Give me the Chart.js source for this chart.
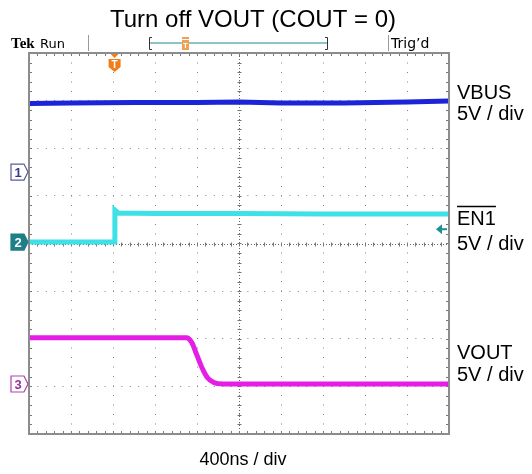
<!DOCTYPE html>
<html>
<head>
<meta charset="utf-8">
<script src="https://cdn.jsdelivr.net/npm/chart.js@4"></script>
<style>
  html, body { margin: 0; padding: 0; background: #fff; }
  #wrap { width: 532px; height: 474px; position: relative; }
</style>
</head>
<body>
<div id="wrap"><canvas id="scope"></canvas></div>
<script>
// time axis in ns (400 ns / div, 10 div), voltage in divisions (5 V / div)
const vbusTime = [0, 400, 1000, 1600, 2000, 2400, 3000, 3600, 4000];
const vbusDiv  = [2.94, 2.95, 2.96, 2.96, 2.97, 2.95, 2.95, 2.97, 2.99];

const en1Time = [0, 815, 818, 850, 1200, 2000, 2800, 3500, 4000];
const en1Div  = [0.03, 0.03, 0.70, 0.64, 0.63, 0.63, 0.62, 0.62, 0.62];

const voutTime = [0, 800, 1500, 1550, 1600, 1650, 1700, 1760, 1850, 2500, 3200, 4000];
const voutDiv  = [-1.98, -1.98, -1.98, -2.08, -2.35, -2.62, -2.82, -2.92, -2.95, -2.95, -2.95, -2.95];

const xTicksNs = [0, 400, 800, 1200, 1600, 2000, 2400, 2800, 3200, 3600, 4000];
const yTicksDiv = [-4, -3, -2, -1, 0, 1, 2, 3, 4];

function pts(t, v) {
    return t.map(function(x, i) { return { x: x, y: v[i] }; });
}

// frame, minor ticks on the border and the centre cross, channel markers, header and labels
const scopeDecor = {
    id: 'scopeDecor',
    beforeDatasetsDraw: function(chart) {
        const ctx = chart.ctx;
        const a = chart.chartArea;
        const xs = chart.scales.x, ys = chart.scales.y;
        const cx = Math.round(xs.getPixelForValue(2000)) + 0.5, cy = Math.round(ys.getPixelForValue(0)) + 0.5;
        ctx.save();
        // centre cross, denser dots
        ctx.strokeStyle = '#666';
        ctx.lineWidth = 1;
        ctx.setLineDash([1, 2]);
        ctx.beginPath();
        ctx.moveTo(cx, a.top); ctx.lineTo(cx, a.bottom);
        ctx.moveTo(a.left, cy); ctx.lineTo(a.right, cy);
        ctx.stroke();
        ctx.setLineDash([]);

        // minor ticks: 5 per division
        ctx.strokeStyle = '#777';
        ctx.beginPath();
        for (let t = 0; t <= 4000; t += 80) {
            const px = Math.round(xs.getPixelForValue(t)) + 0.5;
            ctx.moveTo(px, a.top); ctx.lineTo(px, a.top + 3);
            ctx.moveTo(px, a.bottom); ctx.lineTo(px, a.bottom - 3);
            ctx.moveTo(px, cy - 2); ctx.lineTo(px, cy + 2);
        }
        for (let d = -4; d <= 4; d += 0.2) {
            const py = Math.round(ys.getPixelForValue(d)) + 0.5;
            ctx.moveTo(a.left, py); ctx.lineTo(a.left + 3, py);
            ctx.moveTo(a.right, py); ctx.lineTo(a.right - 3, py);
            ctx.moveTo(cx - 2, py); ctx.lineTo(cx + 2, py);
        }
        ctx.stroke();
        ctx.restore();
    },
    afterDatasetsDraw: function(chart) {
        const ctx = chart.ctx;
        const a = chart.chartArea;
        const xs = chart.scales.x, ys = chart.scales.y;
        ctx.save();

        // frame
        ctx.strokeStyle = '#8c8c8c';
        ctx.lineWidth = 2;
        ctx.strokeRect(a.left, a.top, a.right - a.left, a.bottom - a.top);

        // trigger marker on top of the graticule
        const tx = xs.getPixelForValue(en1Time[1]);
        ctx.fillStyle = '#ef7d1a';
        ctx.beginPath();
        ctx.moveTo(tx - 4, a.top + 1); ctx.lineTo(tx + 4, a.top + 1); ctx.lineTo(tx, a.top + 5);
        ctx.fill();
        ctx.beginPath();
        ctx.moveTo(tx - 6, a.top + 6); ctx.lineTo(tx + 6, a.top + 6);
        ctx.lineTo(tx + 6, a.top + 14); ctx.lineTo(tx, a.top + 19); ctx.lineTo(tx - 6, a.top + 14);
        ctx.closePath();
        ctx.fill();
        ctx.fillStyle = '#fff';
        ctx.font = 'bold 10px "Liberation Sans"';
        ctx.textAlign = 'center';
        ctx.textBaseline = 'middle';
        ctx.fillText('T', tx, a.top + 12);

        // channel ground markers
        function marker(label, level, stroke, fill, textColor) {
            const py = ys.getPixelForValue(level);
            const x0 = a.left - 18, x1 = a.left - 5;
            ctx.beginPath();
            ctx.moveTo(x0, py - 8); ctx.lineTo(x1, py - 8); ctx.lineTo(a.left - 1, py);
            ctx.lineTo(x1, py + 8); ctx.lineTo(x0, py + 8); ctx.closePath();
            if (fill) { ctx.fillStyle = fill; ctx.fill(); }
            ctx.strokeStyle = stroke; ctx.lineWidth = 1.2; ctx.stroke();
            ctx.fillStyle = textColor;
            ctx.font = 'bold 13px "Liberation Sans"';
            ctx.textAlign = 'center';
            ctx.textBaseline = 'middle';
            ctx.fillText(label, x0 + 7, py + 1);
        }
        marker('1', 1.5, '#5a5a9a', null, '#3a3a8a');
        marker('2', 0.03, '#1f7f86', '#1f7f86', '#ffffff');
        marker('3', -2.95, '#b040b0', null, '#9a309a');

        // threshold arrow for channel 2
        const ay = ys.getPixelForValue(0.3);
        ctx.strokeStyle = '#1f8f96'; ctx.fillStyle = '#1f8f96'; ctx.lineWidth = 2;
        ctx.beginPath(); ctx.moveTo(a.right - 8, ay); ctx.lineTo(a.right - 2, ay); ctx.stroke();
        ctx.beginPath(); ctx.moveTo(a.right - 13, ay); ctx.lineTo(a.right - 7, ay - 5); ctx.lineTo(a.right - 7, ay + 5); ctx.fill();

        // header bar
        ctx.fillStyle = '#000';
        ctx.textAlign = 'left';
        ctx.textBaseline = 'alphabetic';
        ctx.font = 'bold 15px "Liberation Serif"';
        ctx.fillText('Tek', 11, 48);
        ctx.font = '13px "DejaVu Sans"';
        ctx.fillText('Run', 40, 48);
        ctx.font = '14px "DejaVu Sans"';
        ctx.fillText('Trig\u2019d', 391, 48);
        ctx.strokeStyle = '#9a9a9a'; ctx.lineWidth = 1;
        ctx.beginPath();
        ctx.moveTo(88.5, 35); ctx.lineTo(88.5, 51);
        ctx.moveTo(388.5, 35); ctx.lineTo(388.5, 51);
        ctx.stroke();
        ctx.strokeStyle = '#333'; ctx.lineWidth = 1;
        ctx.beginPath();
        ctx.moveTo(152, 37.5); ctx.lineTo(149.5, 37.5); ctx.lineTo(149.5, 49.5); ctx.lineTo(152, 49.5);
        ctx.moveTo(325, 37.5); ctx.lineTo(327.5, 37.5); ctx.lineTo(327.5, 49.5); ctx.lineTo(325, 49.5);
        ctx.stroke();
        ctx.strokeStyle = '#8fc4c6'; ctx.lineWidth = 2;
        ctx.beginPath(); ctx.moveTo(150, 43); ctx.lineTo(327, 43); ctx.stroke();
        ctx.fillStyle = '#f0a050';
        ctx.fillRect(182, 37, 7, 2);
        ctx.fillRect(182, 40, 7, 10);
        ctx.fillStyle = '#fff';
        ctx.font = 'bold 8px "Liberation Sans"';
        ctx.textAlign = 'center';
        ctx.fillText('T', 185.5, 48);

        // titles and channel labels
        ctx.fillStyle = '#000';
        ctx.font = '24px "Liberation Sans"';
        ctx.textAlign = 'center';
        ctx.fillText('Turn off VOUT (COUT = 0)', 253, 27);
        ctx.font = '18px "Liberation Sans"';
        ctx.fillText('400ns / div', 243, 465);

        ctx.textAlign = 'left';
        ctx.font = '20px "Liberation Sans"';
        ctx.fillText('VBUS', 457, 99);
        ctx.fillText('5V / div', 457, 120);
        ctx.fillText('EN1', 457, 225);
        ctx.fillText('5V / div', 457, 250);
        ctx.fillText('VOUT', 457, 359);
        ctx.fillText('5V / div', 457, 381);
        ctx.lineWidth = 1.3; ctx.strokeStyle = '#000';
        ctx.beginPath(); ctx.moveTo(457, 206.5); ctx.lineTo(457 + ctx.measureText('EN1').width, 206.5); ctx.stroke();

        ctx.restore();
    }
};

const gridStyle = function(dash) {
    return {
        grid: { color: '#808080', lineWidth: 1, drawTicks: false },
        border: { display: false, dash: dash }
    };
};

new Chart(document.getElementById('scope').getContext('2d'), {
    type: 'line',
    data: {
        datasets: [
            { label: 'VBUS', data: pts(vbusTime, vbusDiv), borderColor: '#1c24d8', borderWidth: 5, pointRadius: 0, tension: 0 },
            { label: 'EN1', data: pts(en1Time, en1Div), borderColor: '#3ee2e6', borderWidth: 5, pointRadius: 0, tension: 0 },
            { label: 'VOUT', data: pts(voutTime, voutDiv), borderColor: '#e41ee4', borderWidth: 5, pointRadius: 0, cubicInterpolationMode: 'monotone' }
        ]
    },
    options: {
        responsive: true,
        maintainAspectRatio: false,
        animation: false,
        layout: { padding: { left: 29, right: 83, top: 53, bottom: 40 } },
        plugins: { legend: { display: false }, tooltip: { enabled: false } },
        scales: {
            x: Object.assign({
                type: 'linear', min: 0, max: 4000,
                afterBuildTicks: function(s) { s.ticks = xTicksNs.map(function(v) { return { value: v }; }); },
                ticks: { display: false }
            }, gridStyle([1, 8.5])),
            y: Object.assign({
                type: 'linear', min: -4, max: 4,
                afterBuildTicks: function(s) { s.ticks = yTicksDiv.map(function(v) { return { value: v }; }); },
                ticks: { display: false }
            }, gridStyle([1, 7.4]))
        }
    },
    plugins: [scopeDecor]
});
</script>
</body>
</html>
